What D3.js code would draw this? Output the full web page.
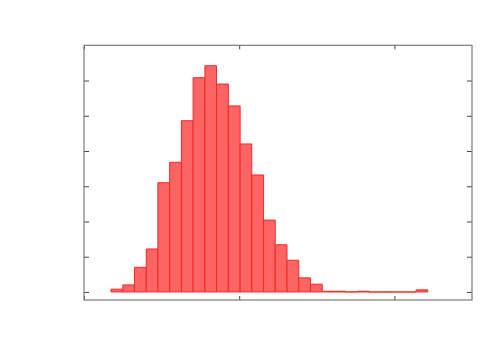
<!DOCTYPE html>
<html>
<head>
<meta charset="utf-8">
<script src="https://cdn.jsdelivr.net/npm/d3@7"></script>
<style>
  body { margin: 0; background: #fff; }
  .frame { fill: none; stroke: #7a7a7a; stroke-width: 1.2; }
  .tick line { stroke: #444; }
  .tick text { display: none; }
  .domain { display: none; }
  .bar { fill: #ff6464; stroke: #ee2a2a; stroke-width: 1; }
</style>
</head>
<body>
<script>
// bin edges (x units, tick spacing = 1) and counts
const binEdges = [0.174, 0.250, 0.325, 0.401, 0.476, 0.552, 0.628, 0.703, 0.779, 0.854,
                  0.930, 1.006, 1.081, 1.157, 1.232, 1.308, 1.384, 1.459, 1.535, 1.610,
                  1.686, 1.762, 1.837, 1.913, 1.988, 2.064, 2.140, 2.215];
const counts = [4, 10, 35, 61, 155, 184, 243, 304, 321, 295,
                264, 210, 166, 102, 67, 45, 20, 11, 1, 1,
                0, 1, 0, 0, 0, 0, 3];
const xTicks = [0, 1, 2];
const yTicks = [0, 50, 100, 150, 200, 250, 300];

const width = 500, height = 350;
const plotLeft = 84, plotRight = 472, plotTop = 45.3, plotBottom = 300;

const svg = d3.select("body").append("svg")
  .attr("width", width)
  .attr("height", height);

const xScale = d3.scaleLinear().domain([0, 2.5]).range([plotLeft, plotRight]);
const yScale = d3.scaleLinear().domain([-11.4, 350]).range([plotBottom, plotTop]);

const bins = counts.map((c, i) => ({ x0: binEdges[i], x1: binEdges[i + 1], n: c }));

// drawn as paths so empty bins still leave their outline on the baseline
svg.selectAll(".bar")
  .data(bins)
  .enter()
  .append("path")
  .attr("class", "bar")
  .attr("d", d => {
    const p = d3.path();
    p.moveTo(xScale(d.x0), yScale(0));
    p.lineTo(xScale(d.x0), yScale(d.n));
    p.lineTo(xScale(d.x1), yScale(d.n));
    p.lineTo(xScale(d.x1), yScale(0));
    p.closePath();
    return p.toString();
  });

// ticks point inward on all four sides
svg.append("g").attr("transform", "translate(0," + plotBottom + ")")
  .call(d3.axisTop(xScale).tickValues(xTicks).tickSize(4));
svg.append("g").attr("transform", "translate(0," + plotTop + ")")
  .call(d3.axisBottom(xScale).tickValues(xTicks).tickSize(4));
svg.append("g").attr("transform", "translate(" + plotLeft + ",0)")
  .call(d3.axisRight(yScale).tickValues(yTicks).tickSize(5));
svg.append("g").attr("transform", "translate(" + plotRight + ",0)")
  .call(d3.axisLeft(yScale).tickValues(yTicks).tickSize(5));

svg.append("rect")
  .attr("class", "frame")
  .attr("x", plotLeft)
  .attr("y", plotTop)
  .attr("width", plotRight - plotLeft)
  .attr("height", plotBottom - plotTop);
</script>
</body>
</html>
